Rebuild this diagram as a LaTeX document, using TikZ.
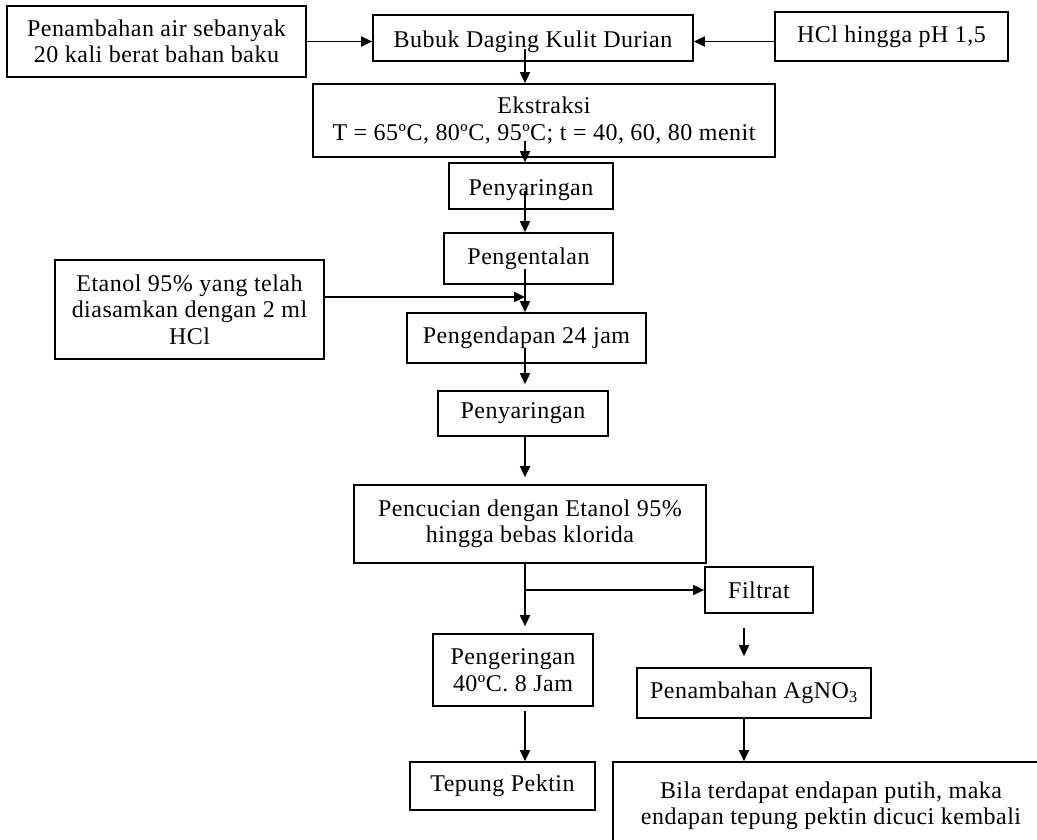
\documentclass[tikz,border=0pt]{standalone}
\usepackage{fontspec}
\setmainfont{Liberation Serif}[LetterSpace=2]
\usetikzlibrary{arrows.meta,calc}

\tikzset{
	kotak/.style 2 args={draw, line width=1.6pt, minimum width=#1, minimum height=#2,
		inner sep=0pt, align=center, font=\fontsize{24}{26.5}\selectfont},
	turun/.style={execute at begin node={\rule{0pt}{24pt}}},
	panah/.style={-{Triangle[length=11pt,width=10pt]}, line width=1.6pt},
}

\begin{document}
\begin{tikzpicture}[x=1pt,y=-1pt]
	\useasboundingbox (0,0) rectangle (1037,839);
	\clip (0,0) rectangle (1037,839);
	\fill[white] (0,0) rectangle (1037,839);
	% kolom utama
	\coordinate (sumbu) at (525,0);
	\coordinate (sumbu2) at (744,0);
	\node[kotak={299pt}{71pt},turun] (air) at (156.5,41.5) {Penambahan air sebanyak\\20 kali berat bahan baku};
	\node[kotak={320pt}{46pt},turun] (bubuk) at (533,38) {Bubuk Daging Kulit Durian};
	\node[kotak={233pt}{49pt}] (hcl) at (891.5,36.5) {HCl hingga pH 1,5};
	\node[kotak={462pt}{73pt},turun] (ekstraksi) at (544,120.5) {Ekstraksi\\T = 65ºC, 80ºC, 95ºC; t = 40, 60, 80 menit};
	\node[kotak={164pt}{46pt},turun] (saring1) at (531,186) {Penyaringan};
	\node[kotak={169pt}{51pt}] (kental) at (528.5,258.5) {Pengentalan};
	\node[kotak={269pt}{99pt},turun] (etanol) at (189.5,309.5) {Etanol 95\% yang telah\\diasamkan dengan 2 ml\\HCl};
	\node[kotak={239pt}{50pt}] (endap) at (526.5,338) {Pengendapan 24 jam};
	\node[kotak={170pt}{45pt}] (saring2) at (523,413.5) {Penyaringan};
	\node[kotak={352pt}{78pt}] (cuci) at (530,524) {Pencucian dengan Etanol 95\%\\hingga bebas klorida};
	% cabang
	\node[kotak={108pt}{46pt}] (filtrat) at (759,590) {Filtrat};
	\node[kotak={160pt}{72pt},turun] (kering) at (513,670) {Pengeringan\\40ºC. 8 Jam};
	\node[kotak={234pt}{50pt}] (agno) at (754,693) {Penambahan AgNO\textsubscript{3}};
	\node[kotak={185pt}{48pt}] (tepung) at (502.5,786) {Tepung Pektin};
	\node[kotak={436pt}{88pt},turun] (bila) at (831,806) {Bila terdapat endapan putih, maka\\endapan tepung pektin dicuci kembali};
	\coordinate (cabang) at (sumbu |- filtrat.west);

	\draw[panah] (air.east) -- (air.east -| bubuk.west);
	\draw[panah] (hcl.west |- air.east) -- (bubuk.east |- air.east);
	\draw[panah] ([yshift=13pt]bubuk.south -| sumbu) -- (ekstraksi.north -| sumbu);
	\draw[panah] ([yshift=17pt]ekstraksi.south -| sumbu) -- (saring1.north -| sumbu);
	\draw[panah] ([yshift=19pt]saring1.south -| sumbu) -- (kental.north -| sumbu);
	\draw[panah] ([yshift=16pt]kental.south -| sumbu) -- (endap.north -| sumbu);
	\draw[panah] ([yshift=12.5pt]etanol.east) -- ([yshift=12.5pt]etanol.east -| sumbu);
	\draw[panah] ([yshift=16pt]endap.south -| sumbu) -- ([yshift=6pt]saring2.north -| sumbu);
	\draw[panah] (saring2.south -| sumbu) -- ([yshift=7pt]cuci.north -| sumbu);
	\draw[panah] (cuci.south -| sumbu) -- ([yshift=7pt]kering.north -| sumbu);
	\draw[panah] (cabang) -- (filtrat.west);
	\draw[panah] ([yshift=-14pt]filtrat.south -| sumbu2) -- ([yshift=11pt]agno.north -| sumbu2);
	\draw[panah] (agno.south -| sumbu2) -- (bila.north -| sumbu2);
	\draw[panah] ([yshift=-4pt]kering.south -| sumbu) -- (tepung.north -| sumbu);
\end{tikzpicture}
\end{document}
